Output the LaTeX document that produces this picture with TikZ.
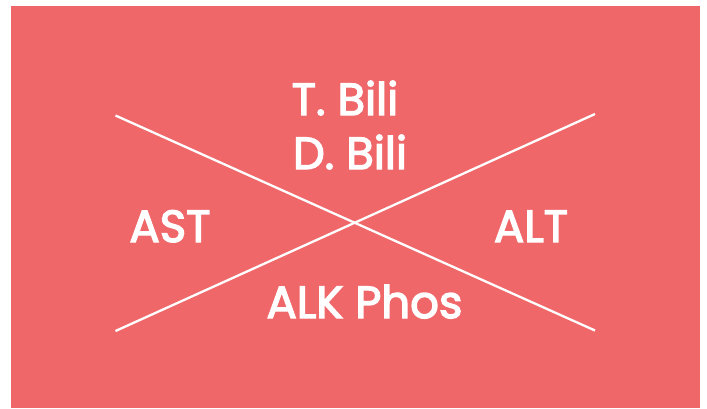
\documentclass[tikz,border=0pt]{standalone}
\usepackage{fontspec}
\setmainfont{Poppins}
\newfontfamily\lblfont{Poppins}[FakeBold=3]
\definecolor{bgred}{HTML}{F0676A}
\begin{document}
\begin{tikzpicture}[x=1pt,y=-1pt,
  lbl/.style={text=white,anchor=base,inner sep=0pt,font=\lblfont\fontsize{45}{54}\selectfont},
  xline/.style={draw=white,line width=2.3pt}]
\useasboundingbox (0,0) rectangle (707,408);
\fill[white] (0,0) rectangle (707,408);
\fill[bgred] (11,6) rectangle (700,408);
\coordinate (tl) at (115.5,115.5);
\coordinate (br) at (595,330.5);
\coordinate (bl) at (115.5,331);
\coordinate (tr) at (595,114);
\draw[xline] (tl) -- (br);
\draw[xline] (bl) -- (tr);
\node[lbl] (tbili) at (345,115) {T. Bili};
\node[lbl] (dbili) at (350,169) {D. Bili};
\node[lbl] (ast) at (170,242) {AST};
\node[lbl] (alt) at (531,242) {ALT};
\node[lbl] (alk) at (364.5,318) {ALK Phos};
\end{tikzpicture}
\end{document}
